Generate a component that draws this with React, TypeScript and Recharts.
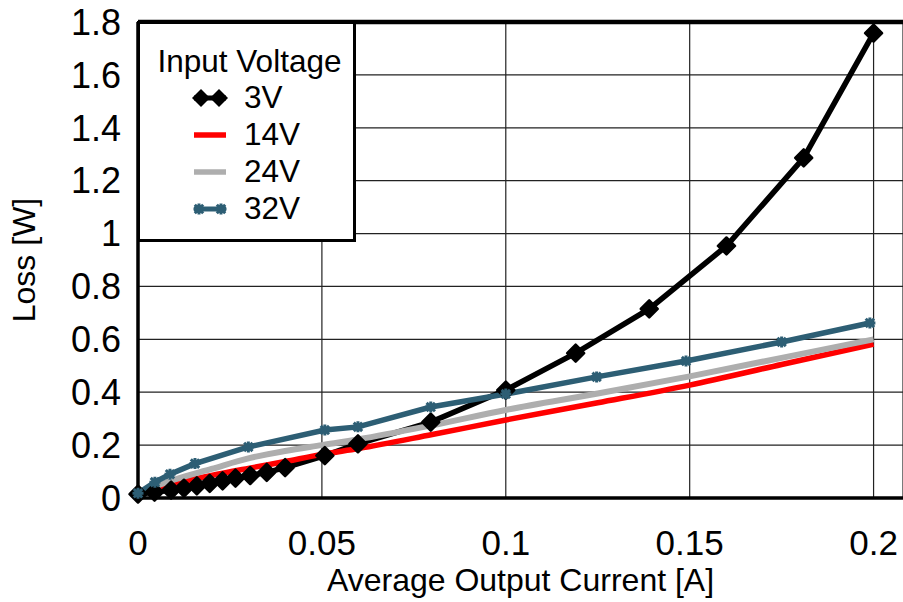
import React from "react";
import { LineChart, Line, XAxis, YAxis, CartesianGrid, ReferenceLine, Legend, Label } from "recharts";

const FONT = '"Liberation Sans", Arial, Helvetica, sans-serif';

// 3V series
const x3V = [0, 0.0045, 0.009, 0.0125, 0.016, 0.0195, 0.023, 0.0265, 0.0305, 0.035, 0.04, 0.0508, 0.0598, 0.0796, 0.1, 0.119, 0.139, 0.16, 0.181, 0.2];
const y3V = [0.015, 0.022, 0.03, 0.037, 0.046, 0.055, 0.065, 0.075, 0.085, 0.097, 0.115, 0.16, 0.205, 0.287, 0.408, 0.548, 0.715, 0.953, 1.286, 1.758];

// 14V series
const x14V = [0, 0.005, 0.01, 0.02, 0.03, 0.04, 0.05, 0.06, 0.08, 0.1, 0.125, 0.15, 0.175, 0.2];
const y14V = [0.012, 0.035, 0.055, 0.085, 0.112, 0.138, 0.165, 0.187, 0.24, 0.295, 0.36, 0.427, 0.505, 0.582];

// 24V series
const x24V = [0, 0.005, 0.01, 0.02, 0.03, 0.04, 0.05, 0.06, 0.08, 0.1, 0.125, 0.15, 0.175, 0.2];
const y24V = [0.015, 0.045, 0.07, 0.11, 0.15, 0.178, 0.2, 0.222, 0.275, 0.333, 0.395, 0.46, 0.53, 0.6];

// 32V series
const x32V = [0, 0.0046, 0.0087, 0.0155, 0.03, 0.0508, 0.0598, 0.0796, 0.1, 0.1247, 0.149, 0.175, 0.199];
const y32V = [0.018, 0.06, 0.09, 0.13, 0.193, 0.257, 0.269, 0.344, 0.393, 0.458, 0.518, 0.59, 0.662];

const xTicks = [0, 0.05, 0.1, 0.15, 0.2];
const yTicks = [0, 0.2, 0.4, 0.6, 0.8, 1, 1.2, 1.4, 1.6, 1.8];
const legendTitle = "Input Voltage";
const seriesNames = ["3V", "14V", "24V", "32V"];

const zip = (xs: number[], ys: number[]) => xs.map((x, i) => ({ x, y: ys[i] }));
const d3 = zip(x3V, y3V);
const d14 = zip(x14V, y14V);
const d24 = zip(x24V, y24V);
const d32 = zip(x32V, y32V);

const TEAL = "#2D5E74";
const RED = "#FF0000";
const GRAY = "#AEAEAE";

const DiamondDot = (props: any) => {
  const { cx, cy, index } = props;
  if (cx == null || cy == null) return null;
  const s = 8.5;
  return (
    <path
      key={`d${index}`}
      d={`M${cx},${cy - s}L${cx + s},${cy}L${cx},${cy + s}L${cx - s},${cy}Z`}
      fill="#000"
      stroke="#000"
      strokeWidth={2.5}
      strokeLinejoin="round"
    />
  );
};

const StarDot = (props: any) => {
  const { cx, cy, index } = props;
  if (cx == null || cy == null) return null;
  const r = 5.5;
  const q = 4.2;
  return (
    <path
      key={`s${index}`}
      d={`M${cx - r},${cy}L${cx + r},${cy}M${cx},${cy - r}L${cx},${cy + r}M${cx - q},${cy - q}L${cx + q},${cy + q}M${cx - q},${cy + q}L${cx + q},${cy - q}`}
      stroke={TEAL}
      strokeWidth={3}
      fill="none"
    />
  );
};

const LegendIcon = ({ kind }: { kind: number }) => {
  const w = 40;
  const h = 22;
  const c = h / 2;
  if (kind === 0) {
    return (
      <svg width={w} height={h}>
        <line x1={4} y1={c} x2={36} y2={c} stroke="#000" strokeWidth={5} />
        <path d={`M11,${c - 9}L20,${c}L11,${c + 9}L2,${c}Z`} fill="#000" />
        <path d={`M29,${c - 9}L38,${c}L29,${c + 9}L20,${c}Z`} fill="#000" />
      </svg>
    );
  }
  if (kind === 3) {
    const star = (x: number) =>
      `M${x - 5.5},${c}L${x + 5.5},${c}M${x},${c - 5.5}L${x},${c + 5.5}M${x - 4.2},${c - 4.2}L${x + 4.2},${c + 4.2}M${x - 4.2},${c + 4.2}L${x + 4.2},${c - 4.2}`;
    return (
      <svg width={w} height={h}>
        <line x1={4} y1={c} x2={36} y2={c} stroke={TEAL} strokeWidth={5} />
        <path d={star(9) + star(31)} stroke={TEAL} strokeWidth={3} fill="none" />
      </svg>
    );
  }
  return (
    <svg width={w} height={h}>
      <line x1={4} y1={c} x2={36} y2={c} stroke={kind === 1 ? RED : GRAY} strokeWidth={5.5} />
    </svg>
  );
};

const LegendBox = () => (
  <div
    style={{
      boxSizing: "border-box",
      width: 219,
      height: 221,
      border: "3px solid #000",
      background: "#fff",
      fontFamily: FONT,
      color: "#000",
      paddingTop: 19,
    }}
  >
    <div style={{ fontSize: 31.5, lineHeight: "36px", textAlign: "center", marginLeft: 6 }}>{legendTitle}</div>
    {seriesNames.map((n, i) => (
      <div key={n} style={{ display: "flex", alignItems: "center", height: 37, marginLeft: 50 }}>
        <LegendIcon kind={i} />
        <span style={{ fontSize: 31.5, marginLeft: 14 }}>{n}</span>
      </div>
    ))}
  </div>
);

export default function App() {
  return (
    <div style={{ position: "absolute", left: 0, top: 0, width: 903, height: 602, background: "#fff" }}>
      <LineChart width={903} height={602} margin={{ top: 22, right: 0, bottom: 0, left: 0 }}>
        <CartesianGrid stroke="#222" strokeWidth={1.2} />
        <XAxis
          type="number"
          dataKey="x"
          domain={[0, 0.208]}
          ticks={xTicks}
          height={104}
          tickSize={0}
          tickMargin={32}
          axisLine={{ stroke: "#000", strokeWidth: 3.5 }}
          tickLine={false}
          tick={{ fill: "#000", fontSize: 35, fontFamily: FONT }}
        >
          <Label
            value="Average Output Current [A]"
            position="insideBottom"
            offset={11}
            style={{ fill: "#000", fontSize: 32, fontFamily: FONT }}
          />
        </XAxis>
        <YAxis
          type="number"
          dataKey="y"
          domain={[0, 1.8]}
          ticks={yTicks}
          width={138}
          tickSize={0}
          tickMargin={17}
          axisLine={{ stroke: "#000", strokeWidth: 3.5 }}
          tickLine={false}
          tick={{ fill: "#000", fontSize: 36, fontFamily: FONT }}
        >
          <Label
            value="Loss [W]"
            angle={-90}
            position="insideLeft"
            offset={24}
            style={{ fill: "#000", fontSize: 32, fontFamily: FONT, textAnchor: "middle" }}
          />
        </YAxis>
        <ReferenceLine y={1.8} stroke="#000" strokeWidth={4.5} />
        <Legend
          layout="vertical"
          align="center"
          verticalAlign="middle"
          wrapperStyle={{ left: 137, top: 21, width: 219, height: 221 }}
          content={() => <LegendBox />}
        />
        <Line data={d3} dataKey="y" name="3V" type="linear" stroke="#000" strokeWidth={5.5} dot={DiamondDot} isAnimationActive={false} />
        <Line data={d14} dataKey="y" name="14V" type="monotone" stroke={RED} strokeWidth={5.5} dot={false} isAnimationActive={false} />
        <Line data={d24} dataKey="y" name="24V" type="monotone" stroke={GRAY} strokeWidth={6} dot={false} isAnimationActive={false} />
        <Line data={d32} dataKey="y" name="32V" type="linear" stroke={TEAL} strokeWidth={5.5} dot={StarDot} isAnimationActive={false} />
      </LineChart>
    </div>
  );
}
